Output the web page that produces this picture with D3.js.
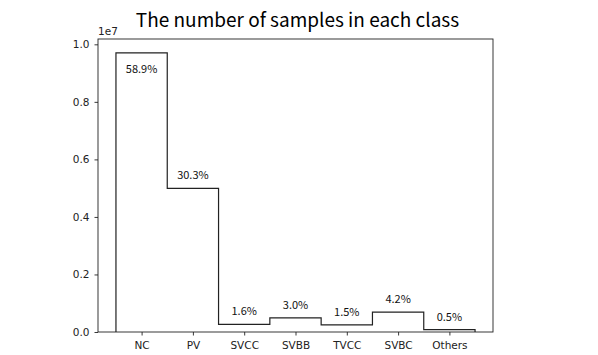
<!DOCTYPE html>
<html>
<head>
<meta charset="utf-8">
<script src="https://cdn.jsdelivr.net/npm/d3@7"></script>
<style>
  body { margin: 0; background: #fff; }
  svg { display: block; }
</style>
</head>
<body>
<div id="chart"></div>
<script>
// class names and sample counts
var classes = ["NC", "PV", "SVCC", "SVBB", "TVCC", "SVBC", "Others"];
var counts = [9700000, 4990000, 264000, 494000, 247000, 692000, 82000];
var yTicks = [0, 2000000, 4000000, 6000000, 8000000, 10000000];

function drawChart() {
    var width = 598,
        height = 355,
        m = { left: 98, right: 493, top: 39, bottom: 332 };

    var svg = d3.select("#chart").append("svg")
        .attr("width", width)
        .attr("height", height);

    var total = d3.sum(counts);

    var x = d3.scaleLinear()
        .domain([-0.85, classes.length - 1 + 0.85])
        .range([m.left, m.right]);

    var y = d3.scaleLinear()
        .domain([0, d3.max(counts) * 1.05])
        .range([m.bottom, m.top]);

    // step outline
    var pts = [[x(-0.5), y(0)]];
    counts.forEach(function(c, i) {
        pts.push([x(i - 0.5), y(c)]);
        pts.push([x(i + 0.5), y(c)]);
    });
    pts.push([x(classes.length - 0.5), y(0)]);

    svg.append("path")
        .attr("d", d3.line()(pts))
        .attr("fill", "none")
        .attr("stroke", "#222")
        .attr("stroke-width", 1.2);

    // axes
    var xAxis = d3.axisBottom(x)
        .tickValues(d3.range(classes.length))
        .tickFormat(function(d) { return classes[d]; })
        .tickSize(3.5)
        .tickPadding(6);

    var yAxis = d3.axisLeft(y)
        .tickValues(yTicks)
        .tickFormat(function(d) { return (d / 1e7).toFixed(1); })
        .tickSize(3.5)
        .tickPadding(5);

    var gx = svg.append("g")
        .attr("transform", "translate(0," + m.bottom + ")")
        .call(xAxis);
    var gy = svg.append("g")
        .attr("transform", "translate(" + m.left + ",0)")
        .call(yAxis);

    [gx, gy].forEach(function(g) {
        g.select(".domain").remove();
        g.selectAll("text")
            .style("font-family", "DejaVu Sans")
            .style("font-size", "10.5px")
            .attr("fill", "#222");
        g.selectAll("line").attr("stroke", "#222").attr("stroke-width", 0.9);
    });

    // frame
    svg.append("rect")
        .attr("x", m.left)
        .attr("y", m.top)
        .attr("width", m.right - m.left)
        .attr("height", m.bottom - m.top)
        .attr("fill", "none")
        .attr("stroke", "#222")
        .attr("stroke-width", 0.9);

    svg.append("text")
        .attr("x", m.left)
        .attr("y", m.top - 4)
        .style("font-family", "DejaVu Sans")
        .style("font-size", "10.5px")
        .attr("fill", "#222")
        .text("1e7");

    // percentage labels
    svg.selectAll(".pct")
        .data(counts)
        .enter().append("text")
        .attr("class", "pct")
        .attr("x", function(d, i) { return x(i); })
        .attr("y", function(d) {
            return d > y.domain()[1] * 0.9 ? y(d) + 20 : y(d) - 9;
        })
        .attr("text-anchor", "middle")
        .style("font-family", "Noto Sans CJK JP")
        .style("font-size", "11px")
        .attr("fill", "#111")
        .text(function(d) { return (d / total * 100).toFixed(1) + "%"; });

    // title
    svg.append("text")
        .attr("x", (m.left + m.right) / 2 + 2)
        .attr("y", 27)
        .attr("text-anchor", "middle")
        .style("font-family", "Noto Sans CJK JP")
        .style("font-weight", 400)
        .style("font-size", "19px")
        .attr("fill", "#000")
        .text("The number of samples in each class");
}

drawChart();
</script>
</body>
</html>
